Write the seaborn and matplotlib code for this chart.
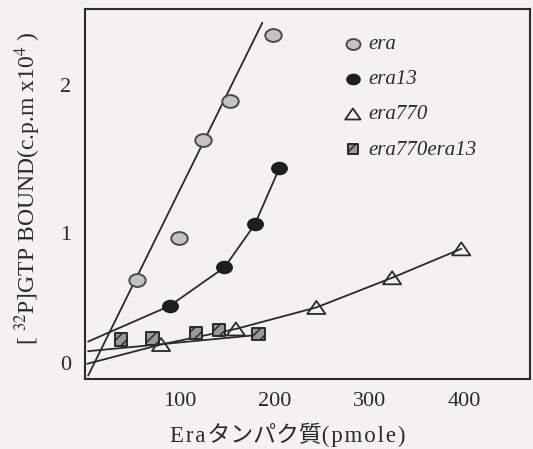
import numpy as np
import pandas as pd
import matplotlib
matplotlib.use("Agg")
import matplotlib.pyplot as plt
import matplotlib.path as mpath
import seaborn as sns

# ---------------- data ----------------
era_x = [55, 99, 124, 153, 198]
era_y = [0.685, 0.97, 1.63, 1.89, 2.34]
era13_x = [89, 147, 179, 205]
era13_y = [0.51, 0.77, 1.06, 1.44]
era770_x = [80, 159, 244, 324, 397]
era770_y = [0.25, 0.355, 0.50, 0.70, 0.895]
era770era13_x = [38, 71, 117, 141, 183]
era770era13_y = [0.285, 0.29, 0.326, 0.346, 0.322]

# fitted / guide lines
era_fit_x = [3, 187]
era_fit_y = [0.04, 2.42]
era13_curve_x = [3, 89, 147, 179, 205]
era13_curve_y = [0.27, 0.51, 0.77, 1.06, 1.44]
era770_curve_x = [2, 80, 159, 244, 324, 397]
era770_curve_y = [0.12, 0.25, 0.355, 0.50, 0.70, 0.895]
era770era13_fit_x = [3, 183]
era770era13_fit_y = [0.205, 0.315]

series_labels = ["era", "era13", "era770", "era770era13"]
x_ticks = [100, 200, 300, 400]
y_ticks = [0.125, 1, 2]
y_tick_labels = ["0", "1", "2"]
HS = "\u200a"
x_label = HS.join("Era") + HS + "タンパク質" + HS.join("(pmole)")
y_label = "[ $^{32}$P]GTP BOUND(c.p.m x10$^{4}$ )"

# ---------------- style ----------------
sns.set_style("white")
BG = "#f4f1f2"
INK = "#2a2a2a"
plt.rcParams["font.family"] = ["Liberation Serif", "Noto Sans CJK JP", "DejaVu Sans"]
plt.rcParams["mathtext.fontset"] = "stix"
plt.rcParams["hatch.color"] = INK
plt.rcParams["hatch.linewidth"] = 1.1

fig = plt.figure(figsize=(5.33, 4.49), dpi=100, facecolor=BG)
ax = fig.add_axes([0.160, 0.1559, 0.8344, 0.8234], facecolor=BG)

# marker shapes
ellipse = mpath.Path(mpath.Path.unit_circle().vertices * np.array([1.0, 0.78]),
                     mpath.Path.unit_circle().codes)
tri = mpath.Path([(-1, -0.72), (1, -0.72), (0, 0.72), (-1, -0.72)],
                 [mpath.Path.MOVETO, mpath.Path.LINETO, mpath.Path.LINETO, mpath.Path.CLOSEPOLY])

# ---------------- lines ----------------
for lx, ly in [(era_fit_x, era_fit_y), (era13_curve_x, era13_curve_y),
               (era770_curve_x, era770_curve_y), (era770era13_fit_x, era770era13_fit_y)]:
    sns.lineplot(x=lx, y=ly, ax=ax, color=INK, linewidth=1.3,
                 estimator=None, sort=False, zorder=2)

# ---------------- markers ----------------
df_era = pd.DataFrame({"x": era_x, "y": era_y})
df_13 = pd.DataFrame({"x": era13_x, "y": era13_y})
df_770 = pd.DataFrame({"x": era770_x, "y": era770_y})
df_770_13 = pd.DataFrame({"x": era770era13_x, "y": era770era13_y})

sns.scatterplot(data=df_era, x="x", y="y", ax=ax, marker=ellipse, s=140,
                color="#c4c2c3", edgecolor="#4a4a4a", linewidth=1.4, zorder=3)
h_era = ax.collections[-1]
sns.scatterplot(data=df_13, x="x", y="y", ax=ax, marker=ellipse, s=125,
                color="#1e1e1e", edgecolor="#1e1e1e", linewidth=1.0, zorder=3)
h_13 = ax.collections[-1]
sns.scatterplot(data=df_770, x="x", y="y", ax=ax, marker=tri, s=170,
                color="#444444", linewidth=1.3, zorder=3)
h_770 = ax.collections[-1]
h_770.set_facecolor("none")
h_770.set_edgecolor(INK)
sns.scatterplot(data=df_770_13, x="x", y="y", ax=ax, marker="s", s=80,
                color="#9a9898", edgecolor=INK, linewidth=1.4, zorder=3)
h_770_13 = ax.collections[-1]
h_770_13.set_hatch("///")

# ---------------- axes ----------------
ax.set_xlim(0, 469.6)
ax.set_ylim(0.0175, 2.51)
ax.set_xticks(x_ticks)
ax.set_xticklabels([str(t) for t in x_ticks])
ax.set_yticks(y_ticks)
ax.set_yticklabels(y_tick_labels)
ax.yaxis.get_major_ticks()[0].tick1line.set_visible(False)
ax.tick_params(axis="both", direction="in", length=11, width=1.1, color=INK,
               labelsize=16, labelcolor=INK, pad=10)
ax.tick_params(axis="x", pad=9)
for side in ["left", "bottom", "top", "right"]:
    ax.spines[side].set_visible(True)
    ax.spines[side].set_color(INK)
    ax.spines[side].set_linewidth(1.5)

ax.set_xlabel(x_label, fontsize=16.5, color=INK)
ax.xaxis.set_label_coords(0.456, -0.118)
ax.set_ylabel(y_label, fontsize=17, color=INK)
ax.yaxis.set_label_coords(-0.095, 0.515)

leg = ax.legend(handles=[h_era, h_13, h_770, h_770_13], labels=series_labels,
                loc="upper left", bbox_to_anchor=(0.583, 0.932), frameon=False,
                prop={"family": "Liberation Serif", "style": "italic", "size": 15},
                handlelength=0.8, handletextpad=0.35, labelspacing=0.75,
                borderpad=0, borderaxespad=0, markerscale=0.85, scatterpoints=1)
for t in leg.get_texts():
    t.set_color(INK)

fig.savefig("out.png", dpi=100, facecolor=BG)
